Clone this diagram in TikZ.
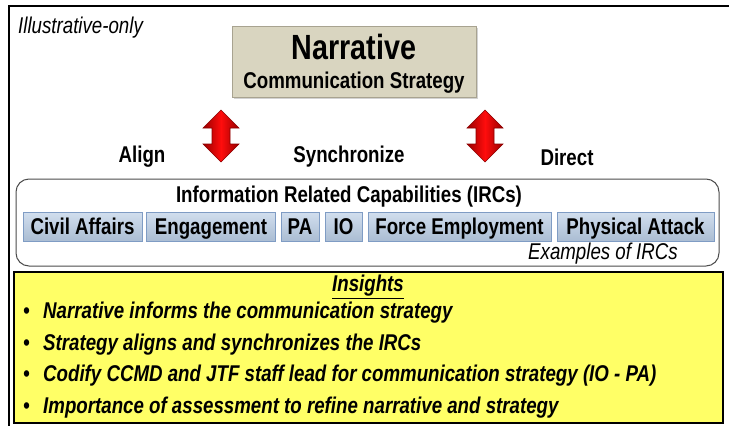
\documentclass[tikz,border=0pt]{standalone}
\usepackage{fontspec}
\setmainfont[FakeStretch=0.82]{Liberation Sans}
\usetikzlibrary{shadows}
\definecolor{tanfill}{HTML}{D9D5C0}
\definecolor{tanedge}{HTML}{A8A390}
\definecolor{btnfill}{HTML}{B9CDE5}
\definecolor{btnedge}{HTML}{7F9CC4}
\definecolor{insyellow}{HTML}{FFFF66}
\tikzset{
  lbl/.style={font=\fontsize{22.8}{26}\selectfont\bfseries, inner sep=0pt},
  ital/.style={font=\fontsize{22.8}{26}\selectfont\itshape, inner sep=0pt},
  btn/.style={draw=btnedge, line width=1pt, top color=btnfill!65!white, bottom color=btnfill!92!black, inner sep=0pt,
     text height=17pt, text depth=2pt, font=\fontsize{22.8}{26}\selectfont\bfseries},
  redarrow/.style={draw=red!55!black, line width=0.6pt, left color=red!60!black, right color=red!60!black, middle color=red!95!white},
  bullet/.style={font=\fontsize{22.8}{26}\selectfont\bfseries\itshape, inner sep=0pt, anchor=west},
}
\begin{document}
\begin{tikzpicture}[x=1pt,y=-1pt]
\useasboundingbox (0,0) rectangle (729,426);
\clip (0,0) rectangle (729,426);
\fill[white] (0,0) rectangle (729,426);
% outer frame
\draw[line width=1.6pt] (9,6) rectangle (740,440);
\node[ital, anchor=north west] (illus) at (18,17) {Illustrative-only};
% narrative box
\node[draw=tanedge, line width=1pt, fill=tanfill, drop shadow={shadow xshift=1.5pt, shadow yshift=-1.5pt, opacity=0.35},
      minimum width=244pt, minimum height=71pt, inner sep=0pt] (narr) at (354,62) {};
\node[font=\fontsize{35}{38}\selectfont\bfseries, inner sep=0pt] (narrt) at (354,47) {Narrative};
\node[lbl] (comm) at (354,83) {Communication Strategy};
% arrows
\foreach \cx/\nm in {221/la, 485/ra}{
  \path[redarrow] (\cx,110) -- (\cx+18,128) -- (\cx+9,128) -- (\cx+9,144) -- (\cx+18,144) -- (\cx,162)
     -- (\cx-18,144) -- (\cx-9,144) -- (\cx-9,128) -- (\cx-18,128) -- cycle;
  \coordinate (\nm) at (\cx,136);
}
\node[lbl] (align) at (142,157) {Align};
\node[lbl] (sync) at (349,157) {Synchronize};
\node[lbl] (direct) at (567,157) {Direct};
% IRC box
\draw[draw=black!70, line width=1pt, rounded corners=13pt] (16,179) rectangle (719,266);
\node[lbl] (irc) at (349,197) {Information Related Capabilities (IRCs)};
\node[btn, minimum width=119pt, minimum height=29pt] (ca) at (82.5,226.5) {Civil Affairs};
\node[btn, minimum width=129pt, minimum height=29pt] (eng) at (211,226.5) {Engagement};
\node[btn, minimum width=38pt, minimum height=29pt] (pa) at (300,226.5) {PA};
\node[btn, minimum width=37pt, minimum height=29pt] (io) at (343.5,226.5) {IO};
\node[btn, minimum width=183pt, minimum height=29pt] (fe) at (459.5,226.5) {Force Employment};
\node[btn, minimum width=157pt, minimum height=29pt] (phy) at (635.5,226.5) {Physical Attack};
\node[ital, anchor=east] (ex) at (678,254) {Examples of IRCs};
% insights
\draw[fill=insyellow, line width=2pt] (14,272) rectangle (723,423);
\node[font=\fontsize{22.8}{26}\selectfont\bfseries\itshape, inner sep=0pt] (ins) at (368,287) {\underline{Insights}};
\foreach \yy/\tx [count=\i] in {313/Narrative informs the communication strategy,
  345/Strategy aligns and synchronizes the IRCs,
  376/Codify CCMD and JTF staff lead for communication strategy (IO - PA),
  408/Importance of assessment to refine narrative and strategy}{
  \node[bullet] (b\i) at (23,\yy) {\textbullet};
  \node[bullet] (t\i) at (43,\yy) {\tx};
}
\end{tikzpicture}
\end{document}
